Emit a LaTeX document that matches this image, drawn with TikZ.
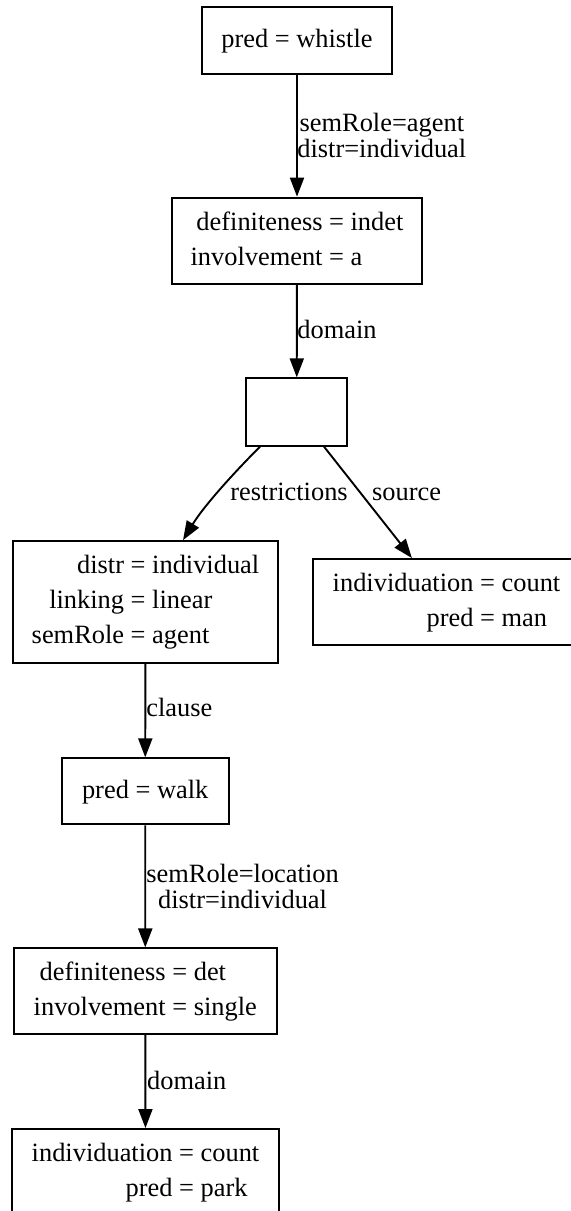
\documentclass[tikz,border=0pt]{standalone}
\usepackage{fontspec}
\setmainfont{Liberation Serif}
\usetikzlibrary{arrows.meta,calc}

% feature-structure text: keys right-aligned, values left-aligned around "="
\newcommand{\kvfont}{\fontsize{13.2pt}{17.5pt}\selectfont}
\newcommand{\lblfont}{\fontsize{13.2pt}{13pt}\selectfont\lineskiplimit=-100pt}
\newcommand{\kvtab}[1]{\begin{tabular}{@{}r@{\ =\ }l@{}}#1\end{tabular}}

\tikzset{
  fsbox/.style={draw, line width=0.95pt, rectangle, inner sep=0pt, font=\kvfont},
  fsedge/.style={line width=0.95pt, -{Triangle[length=9.5pt,width=7pt]}},
  fslabel/.style={inner sep=0pt, font=\kvfont},
  fslabeltwo/.style={inner sep=0pt, anchor=north west, align=center, font=\lblfont},
}

\begin{document}
\begin{tikzpicture}[x=0.5pt, y=-0.5pt]
\useasboundingbox (0,0) rectangle (571,1211);
\fill[white] (0,0) rectangle (571,1211);

% feature-structure nodes
\node[fsbox, minimum width=95pt, minimum height=33.3pt] (whistle) at (297,40.7)
  {\kvtab{pred & whistle}};
\node[fsbox, minimum width=125pt, minimum height=43.2pt] (indet) at (297,240.8)
  {\kvtab{definiteness & indet\\ involvement & a}};
\node[fsbox, minimum width=50.5pt, minimum height=33.7pt] (hub) at (296.7,412) {};
\node[fsbox, minimum width=132.8pt, minimum height=60.8pt] (restr) at (145.5,601.9)
  {\kvtab{distr & individual\\ linking & linear\\ semRole & agent}};
\node[fsbox, minimum width=133.8pt, minimum height=43pt] (man) at (446.5,602)
  {\kvtab{individuation & count\\ pred & man}};
\node[fsbox, minimum width=83.5pt, minimum height=33pt] (walk) at (145.2,791.3)
  {\kvtab{pred & walk}};
\node[fsbox, minimum width=131.3pt, minimum height=42.8pt] (det) at (145.3,991.2)
  {\kvtab{definiteness & det\\ involvement & single}};
\node[fsbox, minimum width=133.8pt, minimum height=43pt] (park) at (145.5,1172)
  {\kvtab{individuation & count\\ pred & park}};

% relations
\draw[fsedge] (whistle) -- (indet);
\draw[fsedge] (indet) -- (hub);
\draw[fsedge] ($(hub.south)+(-36.7,0)$) .. controls +(-22,22) and +(22,-36) .. ($(restr.north)+(37.5,0)$);
\draw[fsedge] (hub) -- (man);
\draw[fsedge] (restr) -- (walk);
\draw[fsedge] (walk) -- (det);
\draw[fsedge] (det) -- (park);

% relation labels
\node[fslabeltwo] (lagent) at (297,113) {semRole=agent\\distr=individual};
\node[fslabel, anchor=base west] (ldomA) at (297,338.3) {domain};
\node[fslabel, anchor=base west] (lrestr) at (230,500.7) {restrictions};
\node[fslabel, anchor=base west] (lsource) at (371.7,500.7) {source};
\node[fslabel, anchor=base west] (lclause) at (146,716.7) {clause};
\node[fslabeltwo] (lloc) at (146,863.7) {semRole=location\\distr=individual};
\node[fslabel, anchor=base west] (ldomB) at (146.7,1089.3) {domain};
\end{tikzpicture}
\end{document}
